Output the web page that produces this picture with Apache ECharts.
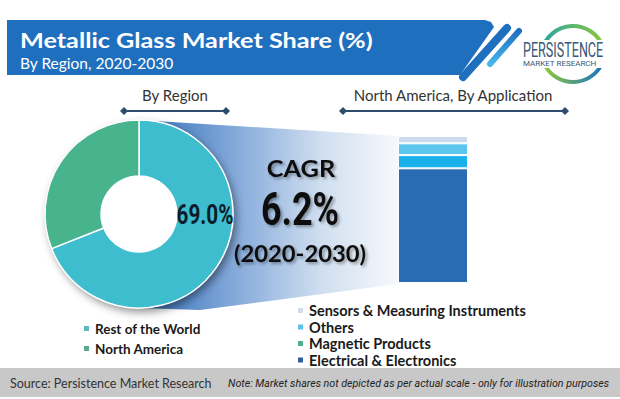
<!DOCTYPE html>
<html>
<head>
<meta charset="utf-8">
<script src="https://cdn.jsdelivr.net/npm/echarts@6/dist/echarts.min.js"></script>
<style>
  html, body { margin: 0; padding: 0; background: #fff; }
  #chart { width: 620px; height: 399px; }
</style>
</head>
<body>
<div id="chart"></div>
<script>
// donut: by region
const regionNames = ['Rest of the World', 'North America']
const regionShares = [69.0, 31.0]
const regionColors = ['#3dbdcd', '#47b48e']
const regionLegendColors = ['#5bb8c4', '#5aaa8c']

// stacked bar: north america by application (bottom -> top)
const appNames = ['Electrical & Electronics', 'Magnetic Products', 'Others', 'Sensors & Measuring Instruments']
const appShares = [78, 9, 8, 5]
const appBarColors = ['#2a6cb3', '#19b1ea', '#5cc6ee', '#cbd9ec']
const appLegendColors = ['#2f5f9e', '#4caf8e', '#5bc0ea', '#d3dce8']

const cagrLabel = 'CAGR'
const cagrValue = '6.2%'
const cagrPeriod = '(2020-2030)'

const titleText = 'Metallic Glass Market Share (%)'
const subText = 'By Region, 2020-2030'

const chart = echarts.init(document.getElementById('chart'), null, { renderer: 'svg' })

const shadowTxt = {
  textShadowColor: 'rgba(0,0,0,0.35)',
  textShadowBlur: 3,
  textShadowOffsetX: 2,
  textShadowOffsetY: 2,
}

// small diamond-ended rule under section headers
const rule = (x1, x2, y) => [
  { type: 'line', shape: { x1, y1: y, x2, y2: y }, style: { stroke: '#2e4d6c', lineWidth: 2 }, z: 5 },
  { type: 'polygon', shape: { points: [[x1 - 4, y], [x1, y - 4], [x1 + 4, y], [x1, y + 4]] }, style: { fill: '#2e4d6c' }, z: 5 },
  { type: 'polygon', shape: { points: [[x2 - 4, y], [x2, y - 4], [x2 + 4, y], [x2, y + 4]] }, style: { fill: '#2e4d6c' }, z: 5 },
]

const option = {
  animation: false,
  graphic: [
    // header banner
    {
      type: 'polygon',
      shape: { points: [[7, 20], [485, 20], [491, 22], [494, 27], [460, 75], [7, 75]] },
      style: { fill: '#1f6fbf' },
    },
    { type: 'line', shape: { x1: 507, y1: 28, x2: 463, y2: 77 }, style: { stroke: '#1f6fbf', lineWidth: 8, lineCap: 'round' } },
    {
      type: 'line',
      shape: { x1: 519, y1: 31, x2: 490, y2: 64 },
      style: {
        lineWidth: 6,
        lineCap: 'round',
        stroke: new echarts.graphic.LinearGradient(0, 0, 0, 1, [
          { offset: 0, color: '#1f6fbf' },
          { offset: 1, color: '#46b8ea' },
        ]),
      },
    },
    {
      type: 'text', x: 20, y: 40, scaleX: 1.2, z: 5,
      style: { text: titleText, font: 'bold 21px Lato', fill: '#fff', verticalAlign: 'middle' },
    },
    {
      type: 'text', x: 20, y: 63, z: 5,
      style: { text: subText, font: '15.5px Lato', fill: '#fff', verticalAlign: 'middle' },
    },
    // logo
    {
      type: 'arc', shape: { cx: 573, cy: 58, r: 32, startAngle: -2.9, endAngle: -0.35 },
      style: {
        lineWidth: 4, fill: 'none',
        stroke: new echarts.graphic.LinearGradient(0, 0, 1, 0, [
          { offset: 0, color: '#2aa6a0' },
          { offset: 1, color: '#8cc63f' },
        ]),
      },
    },
    {
      type: 'arc', shape: { cx: 573, cy: 50, r: 32, startAngle: 0.5, endAngle: 2.6 },
      style: {
        lineWidth: 4, fill: 'none',
        stroke: new echarts.graphic.LinearGradient(0, 0, 1, 0, [
          { offset: 0, color: '#8cc63f' },
          { offset: 1, color: '#1c75bc' },
        ]),
      },
    },
    {
      type: 'rect', shape: { x: 520, y: 40, width: 92, height: 28 }, style: { fill: '#fff' },
    },
    {
      type: 'text', x: 523, y: 50, scaleX: 0.6, z: 5,
      style: { text: 'PERSISTENCE', font: '21px Roboto', fill: '#3b5876', verticalAlign: 'middle' },
    },
    {
      type: 'text', x: 523, y: 63, z: 5,
      style: { text: 'MARKET RESEARCH', font: '8px Roboto', fill: '#3b5876', verticalAlign: 'middle' },
    },
    // section headers
    {
      type: 'text', x: 175, y: 95, z: 5,
      style: { text: 'By Region', font: '15px Lato', fill: '#333', align: 'center', verticalAlign: 'middle' },
    },
    {
      type: 'text', x: 453, y: 95, z: 5,
      style: { text: 'North America, By Application', font: '15px Lato', fill: '#333', align: 'center', verticalAlign: 'middle' },
    },
    ...rule(124, 226, 111),
    ...rule(343, 565, 111),
    // gradient funnel from donut to bar
    {
      type: 'polygon', z: 0,
      shape: { points: [[139, 120], [398, 136], [398, 284], [200, 310], [139, 308]] },
      style: {
        fill: new echarts.graphic.LinearGradient(0, 0, 1, 0, [
          { offset: 0, color: '#3470bb' },
          { offset: 0.35, color: '#7fa6d8' },
          { offset: 0.7, color: '#cfdef0' },
          { offset: 1, color: '#f6f9fc' },
        ]),
      },
    },
    // donut shadow backing
    {
      type: 'circle', z: 1,
      shape: { cx: 139, cy: 214, r: 94 },
      style: { fill: '#fff', shadowBlur: 8, shadowColor: 'rgba(0,0,0,0.45)', shadowOffsetX: 3, shadowOffsetY: 4 },
    },
    // donut value label
    {
      type: 'text', x: 205, y: 214, scaleX: 0.74, z: 20,
      style: {
        text: regionShares[0].toFixed(1) + '%',
        font: 'bold 28px Roboto',
        fill: '#0c1c2a', align: 'center', verticalAlign: 'middle',
      },
    },
    // CAGR block
    {
      type: 'text', x: 301, y: 169, scaleX: 1.15, z: 20,
      style: Object.assign({ text: cagrLabel, font: 'bold 22px Lato', fill: '#111', align: 'center', verticalAlign: 'middle' }, shadowTxt),
    },
    {
      type: 'text', x: 300, y: 209, scaleX: 0.78, z: 20,
      style: Object.assign({ text: cagrValue, font: 'bold 46px Roboto', fill: '#111', align: 'center', verticalAlign: 'middle' }, shadowTxt),
    },
    {
      type: 'text', x: 300, y: 253, scaleX: 1.08, z: 20,
      style: Object.assign({ text: cagrPeriod, font: 'bold 22px Lato', fill: '#111', align: 'center', verticalAlign: 'middle' }, shadowTxt),
    },
    // footer
    { type: 'rect', shape: { x: 0, y: 368, width: 620, height: 29 }, style: { fill: '#c8c8c8' } },
    {
      type: 'text', x: 10, y: 383, z: 5,
      style: { text: 'Source: Persistence Market Research', font: '12.5px Lato', fill: '#333', verticalAlign: 'middle' },
    },
    {
      type: 'text', x: 228, y: 383, scaleX: 0.97, z: 5,
      style: {
        text: 'Note: Market shares not depicted as per actual scale - only for illustration purposes',
        font: 'italic 11px Roboto', fill: '#222', verticalAlign: 'middle',
      },
    },
  ],
  legend: [
    {
      data: regionNames.map((n, i) => ({ name: n, itemStyle: { color: regionLegendColors[i] } })),
      orient: 'vertical',
      left: 82,
      top: 321,
      padding: 0,
      icon: 'rect',
      itemWidth: 7,
      itemHeight: 7,
      itemGap: 5,
      selectedMode: false,
      textStyle: { fontFamily: 'Lato', fontWeight: 'bold', fontSize: 13.5, lineHeight: 15, color: '#1a1a1a' },
    },
    {
      data: appNames.map((n, i) => ({ name: n, itemStyle: { color: appLegendColors[i] } })).reverse(),
      orient: 'vertical',
      left: 296,
      top: 303,
      padding: 0,
      icon: 'rect',
      itemWidth: 7,
      itemHeight: 7,
      itemGap: 1.5,
      selectedMode: false,
      textStyle: { fontFamily: 'Lato', fontWeight: 'bold', fontSize: 14.5, lineHeight: 15, color: '#1a1a1a' },
    },
  ],
  grid: { left: 398, top: 136, width: 70, height: 147 },
  xAxis: { type: 'category', data: ['North America'], show: false },
  yAxis: { type: 'value', min: 0, max: 100, show: false },
  series: [
    {
      name: 'By Region',
      type: 'pie',
      center: [139, 214],
      radius: [38, 94],
      startAngle: 90,
      clockwise: true,
      z: 3,
      label: { show: false },
      labelLine: { show: false },
      emphasis: { disabled: true },
      itemStyle: { borderColor: '#fff', borderWidth: 1.5 },
      data: regionNames.map((n, i) => ({ name: n, value: regionShares[i], itemStyle: { color: regionColors[i] } })),
    },
    ...appNames.map((n, i) => ({
      name: n,
      type: 'bar',
      stack: 'na',
      barWidth: '100%',
      emphasis: { disabled: true },
      itemStyle: { color: appBarColors[i], borderColor: '#fff', borderWidth: 1 },
      data: [appShares[i]],
    })),
  ],
}

chart.setOption(option)
</script>
</body>
</html>
